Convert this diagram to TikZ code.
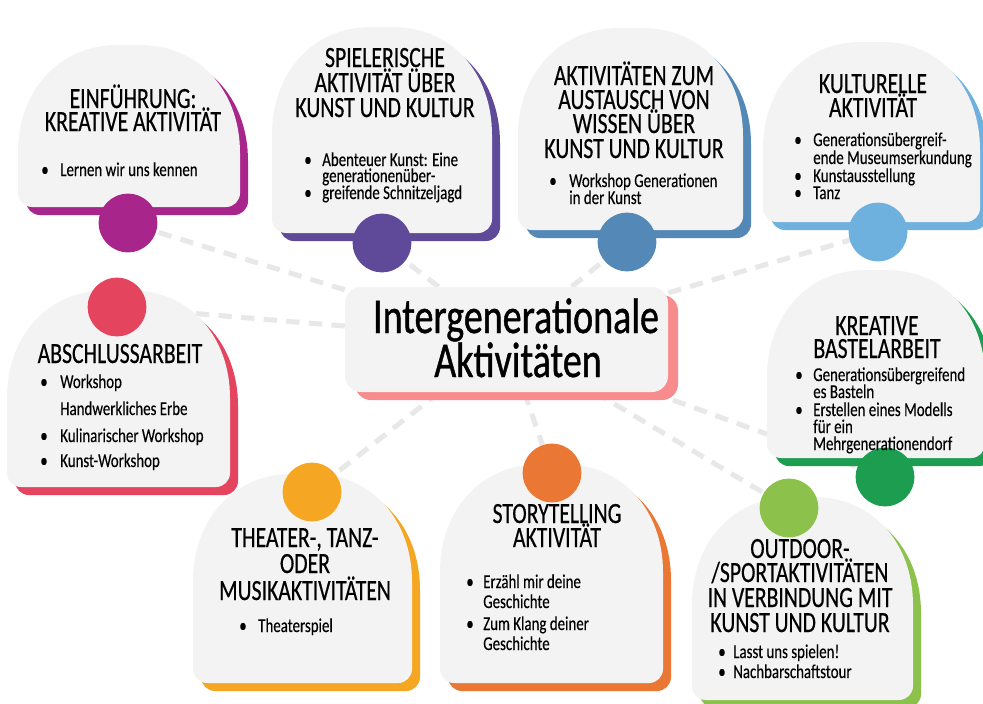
\documentclass[tikz,border=0pt]{standalone}
\usepackage{fontspec}
\setmainfont{Carlito}
\newfontfamily\hf[FakeStretch=0.76,FakeBold=0.8]{Carlito}
\newfontfamily\titlefont[FakeStretch=0.74,FakeBold=0.45]{Carlito}
\newfontfamily\bodyfont[FakeStretch=0.76,FakeBold=0.3]{Carlito}
\usetikzlibrary{shadows}
\pgfdeclarelayer{bg}
\pgfsetlayers{bg,main}
\definecolor{cardgray}{HTML}{F3F3F3}
\definecolor{conngray}{HTML}{E8E8E8}
\definecolor{colA}{HTML}{A8258B}
\definecolor{colB}{HTML}{5F4999}
\definecolor{colC}{HTML}{5488B7}
\definecolor{colD}{HTML}{6EB0DE}
\definecolor{colE}{HTML}{E5445F}
\definecolor{colHub}{HTML}{F88B8B}
\definecolor{colG}{HTML}{1C9D50}
\definecolor{colH}{HTML}{F5A623}
\definecolor{colI}{HTML}{EA7834}
\definecolor{colJ}{HTML}{8CC14B}
% arch path: x0 yt x1 yb ; top corners rx=0.45w, ry=108
\newcommand\ArchPath[4]{%
  (#1,#4-14) -- (#1,#2+108)
  .. controls (#1,#2+45) and ({#1+0.1875*(#3-#1)},#2) .. ({#1+0.45*(#3-#1)},#2)
  -- ({#3-0.45*(#3-#1)},#2)
  .. controls ({#3-0.1875*(#3-#1)},#2) and (#3,#2+45) .. (#3,#2+108)
  -- (#3,#4-14) arc[start angle=0,end angle=90,radius=14]
  -- (#1+14,#4) arc[start angle=90,end angle=180,radius=14] -- cycle}
\newcommand\Card[5]{%
  \fill[#5,shift={(8,8)}] \ArchPath{#1}{#2}{#3}{#4};
  \fill[cardgray] \ArchPath{#1}{#2}{#3}{#4};}
\newcommand\Ttl[4]{\node[ttl] (#1) at (#2,#3) {#4};}
\newcommand\Bul[3]{\node[bu] (#1) at (#2,#3) {•};}
\newcommand\Txt[4]{\node[bt] (#1) at (#2,#3) {#4};}
\begin{document}
\begin{tikzpicture}[x=0.75pt,y=-0.75pt,
  ttl/.style={anchor=base,inner sep=0pt,text height=13pt,text depth=0pt,font=\titlefont\fontsize{22}{22}\selectfont},
  bt/.style={anchor=base west,inner sep=0pt,text height=8pt,text depth=1pt,font=\bodyfont\fontsize{14.7}{15}\selectfont},
  bu/.style={anchor=base,inner sep=0pt,text height=6pt,text depth=0pt,font=\bodyfont\fontsize{14.7}{15}\selectfont},
  hubtxt/.style={anchor=base,inner sep=0pt,text height=24pt,text depth=0pt,font=\hf\fontsize{37.5}{40}\selectfont},
  dot/.style={circle,inner sep=0pt,minimum size=44pt},
  conn/.style={draw=conngray,line width=3.75pt,dash pattern=on 10pt off 7pt}]
\useasboundingbox (0,0) rectangle (983,704);
\begin{pgfonlayer}{bg}
\fill[white] (0,0) rectangle (983,704);
\end{pgfonlayer}
% hub
\node[fill=cardgray,rounded corners=12pt,minimum width=242.25pt,minimum height=78.75pt,inner sep=0pt,
  drop shadow={opacity=1,fill=colHub,shadow xshift=7.5pt,shadow yshift=-6pt}] (hub) at (506.5,339.5) {};
% cards
\Card{18}{45}{240}{207}{colA}
\Card{272}{27}{492}{233}{colB}
\Card{518}{28}{743}{230}{colC}
\Card{763}{42}{980}{222}{colD}
\Card{7}{290}{230}{487}{colE}
\Card{767}{270}{985}{458}{colG}
\Card{193}{474}{412}{683}{colH}
\Card{440}{464}{663}{683}{colI}
\Card{692}{497}{913}{700}{colJ}
% circles
\node[dot,fill=colA] (c1) at (128,223) {};
\node[dot,fill=colB] (c2) at (382,243) {};
\node[dot,fill=colC] (c3) at (627,242) {};
\node[dot,fill=colD] (c4) at (878,232) {};
\node[dot,fill=colE] (c5) at (117,307) {};
\node[dot,fill=colG] (c7) at (885,477) {};
\node[dot,fill=colH] (c8) at (312,492) {};
\node[dot,fill=colI] (c9) at (552,473) {};
\node[dot,fill=colJ] (c10) at (789,508) {};
% connectors
\begin{pgfonlayer}{bg}
\foreach \c in {c1,c2,c3,c4,c5,c7,c8,c9,c10} \draw[conn] (hub) -- (\c);
\end{pgfonlayer}
% hub text
\node[hubtxt] (ht1) at (516,333) {Intergenerationale};
\node[hubtxt] (ht2) at (518,377) {Aktivitäten};
% card 1
\Ttl{t1a}{133}{108}{EINFÜHRUNG:}
\Ttl{t1b}{133}{131}{KREATIVE AKTIVITÄT}
\Bul{b1a}{45}{176}
\Txt{x1a}{60}{176}{Lernen wir uns kennen}
% card 2
\Ttl{t2a}{385}{67}{SPIELERISCHE}
\Ttl{t2b}{385}{92}{AKTIVITÄT ÜBER}
\Ttl{t2c}{385}{117}{KUNST UND KULTUR}
\Bul{b2a}{308}{166}
\Txt{x2a}{322}{166}{Abenteuer Kunst: Eine}
\Txt{x2b}{322}{182}{generationenüber-}
\Bul{b2c}{308}{199}
\Txt{x2c}{322}{199}{greifende Schnitzeljagd}
% card 3
\Ttl{t3a}{634}{85}{AKTIVITÄTEN ZUM}
\Ttl{t3b}{634}{109}{AUSTAUSCH VON}
\Ttl{t3c}{634}{133}{WISSEN ÜBER}
\Ttl{t3d}{634}{158}{KUNST UND KULTUR}
\Bul{b3a}{553}{187}
\Txt{x3a}{569}{187}{Workshop Generationen}
\Txt{x3b}{569}{204}{in der Kunst}
% card 4
\Ttl{t4a}{873}{93}{KULTURELLE}
\Ttl{t4b}{873}{117}{AKTIVITÄT}
\Bul{b4a}{798}{146}
\Txt{x4a}{813}{146}{Generationsübergreif-}
\Txt{x4b}{813}{164}{ende Museumserkundung}
\Bul{b4c}{798}{182}
\Txt{x4c}{813}{182}{Kunstausstellung}
\Bul{b4d}{798}{199}
\Txt{x4d}{813}{199}{Tanz}
% card 5
\Ttl{t5a}{120}{363}{ABSCHLUSSARBEIT}
\Bul{b5a}{44}{388}
\Txt{x5a}{60}{388}{Workshop}
\Txt{x5b}{60}{415}{Handwerkliches Erbe}
\Bul{b5c}{44}{442}
\Txt{x5c}{60}{442}{Kulinarischer Workshop}
\Bul{b5d}{44}{467}
\Txt{x5d}{60}{467}{Kunst-Workshop}
% card 7
\Ttl{t7a}{877}{335}{KREATIVE}
\Ttl{t7b}{877}{358}{BASTELARBEIT}
\Bul{b7a}{799}{381}
\Txt{x7a}{813}{381}{Generationsübergreifend}
\Txt{x7b}{813}{398}{es Basteln}
\Bul{b7c}{799}{416}
\Txt{x7c}{813}{416}{Erstellen eines Modells}
\Txt{x7d}{813}{433}{für ein}
\Txt{x7e}{813}{450}{Mehrgenerationendorf}
% card 8
\Ttl{t8a}{305}{547}{THEATER-, TANZ-}
\Ttl{t8b}{305}{573}{ODER}
\Ttl{t8c}{305}{600}{MUSIKAKTIVITÄTEN}
\Bul{b8a}{243}{632}
\Txt{x8a}{258}{632}{Theaterspiel}
% card 9
\Ttl{t9a}{557}{523}{STORYTELLING}
\Ttl{t9b}{557}{547}{AKTIVITÄT}
\Bul{b9a}{470}{588}
\Txt{x9a}{483}{588}{Erzähl mir deine}
\Txt{x9b}{483}{608}{Geschichte}
\Bul{b9c}{470}{630}
\Txt{x9c}{483}{630}{Zum Klang deiner}
\Txt{x9d}{483}{650}{Geschichte}
% card 10
\Ttl{t10a}{800}{558}{OUTDOOR-}
\Ttl{t10b}{800}{582}{/SPORTAKTIVITÄTEN}
\Ttl{t10c}{800}{607}{IN VERBINDUNG MIT}
\Ttl{t10d}{800}{632}{KUNST UND KULTUR}
\Bul{b10a}{722}{658}
\Txt{x10a}{733}{658}{Lasst uns spielen!}
\Bul{b10b}{722}{678}
\Txt{x10b}{733}{678}{Nachbarschaftstour}
\end{tikzpicture}
\end{document}
